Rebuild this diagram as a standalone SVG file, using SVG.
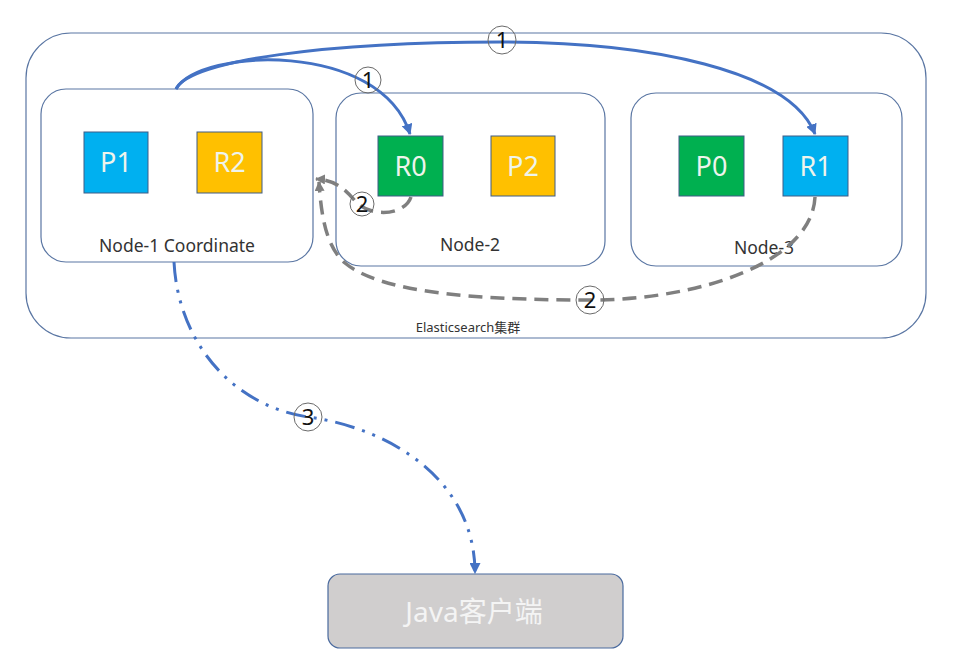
<svg xmlns="http://www.w3.org/2000/svg" width="970" height="662" viewBox="0 0 970 662">
<style>
.box{fill:#fff;stroke:#5A76A3;stroke-width:1.2}
.lbl{font-family:"Noto Sans","Noto Sans CJK SC",sans-serif;fill:#333;text-anchor:middle}
.sh{stroke:#3E5C86;stroke-width:1}
.sht{font-family:"Noto Sans","Noto Sans CJK SC",sans-serif;font-size:27px;fill:#EEF4EC;text-anchor:middle}
.blue{fill:#00B0F0}.yel{fill:#FFC000}.grn{fill:#00B050}
.c1{fill:none;stroke:#4472C4;stroke-width:3}
.c2{fill:none;stroke:#7F7F7F;stroke-width:3.5;stroke-dasharray:14 8}
.c3{fill:none;stroke:#4472C4;stroke-width:3;stroke-dasharray:20 8 3 8 3 8}
.num circle{fill:none;stroke:#6a6a6a;stroke-width:1}
.num text{font-family:"Noto Sans",sans-serif;font-size:22px;fill:#111;text-anchor:middle}
</style>
<defs>
<marker id="ab" viewBox="0 0 10 10" refX="9" refY="5" markerWidth="11" markerHeight="11" markerUnits="userSpaceOnUse" orient="auto"><path d="M0,0 L10,5 L0,10 z" fill="#4472C4"/></marker>
<marker id="ag" viewBox="0 0 10 10" refX="9" refY="5" markerWidth="10" markerHeight="10" markerUnits="userSpaceOnUse" orient="auto"><path d="M0,0 L10,5 L0,10 z" fill="#7F7F7F"/></marker>
</defs>
<rect width="970" height="662" fill="#fff"/>
<g id="cluster">
<rect class="box" x="26" y="33" width="900" height="305" rx="45"/>
<text class="lbl" x="468" y="332" font-size="13">Elasticsearch集群</text>
</g>
<g id="node1">
<rect class="box" x="41" y="89" width="272" height="173" rx="25"/>
<text class="lbl" x="177" y="252" font-size="17.5">Node-1 Coordinate</text>
</g>
<g id="node2">
<rect class="box" x="336" y="93" width="269" height="173" rx="25"/>
<text class="lbl" x="470" y="251" font-size="17.5">Node-2</text>
</g>
<g id="node3">
<rect class="box" x="631" y="93" width="271" height="173" rx="25"/>
<text class="lbl" x="764" y="254" font-size="17.5">Node-3</text>
</g>
<g id="P1"><rect class="sh blue" x="84" y="132" width="64" height="61"/><text class="sht" x="116" y="172">P1</text></g>
<g id="R2"><rect class="sh yel" x="197" y="132" width="65" height="61"/><text class="sht" x="229.5" y="172">R2</text></g>
<g id="R0"><rect class="sh grn" x="378" y="136" width="65" height="60"/><text class="sht" x="410.5" y="176">R0</text></g>
<g id="P2"><rect class="sh yel" x="491" y="136" width="64" height="60"/><text class="sht" x="523" y="176">P2</text></g>
<g id="P0"><rect class="sh grn" x="679" y="136" width="65" height="60"/><text class="sht" x="711.5" y="176">P0</text></g>
<g id="R1"><rect class="sh blue" x="783" y="136" width="65" height="60"/><text class="sht" x="815.5" y="176">R1</text></g>
<g id="client">
<rect x="328" y="574" width="295" height="74" rx="12" fill="#D0CECE" stroke="#4A6A9E" stroke-width="1.2"/>
<text x="474" y="622" font-family="Noto Sans,'Noto Sans CJK SC',sans-serif" font-size="28" fill="#F4F4F4" text-anchor="middle">Java客户端</text>
</g>
<g id="connectors">
<path class="c1" d="M176,89 C200,48 380,40 410,134" marker-end="url(#ab)"/>
<path class="c1" d="M176,89 C190,60 330,42 500,42 C650,42 790,70 815,134" marker-end="url(#ab)"/>
<path class="c2" d="M411,197 C405,215 372,218 356,202 C346,190 336,180 316,179" marker-end="url(#ag)"/>
<path class="c2" d="M815,197 C812,262 700,300 590,300 C470,300 380,292 345,263 C325,246 321,212 319,182" marker-end="url(#ag)"/>
<path class="c3" d="M174,262 C178,340 230,405 308,417 C390,428 475,480 475,573" marker-end="url(#ab)"/>
</g>
<g id="labels">
<g class="num"><circle cx="368" cy="80" r="13"/><text x="368" y="88">1</text></g>
<g class="num"><circle cx="502" cy="40" r="14"/><text x="502" y="48">1</text></g>
<g class="num"><circle cx="362" cy="204" r="12"/><text x="362" y="212">2</text></g>
<g class="num"><circle cx="590" cy="300" r="14"/><text x="590" y="308">2</text></g>
<g class="num"><circle cx="308" cy="417" r="14"/><text x="308" y="425">3</text></g>
</g>
</svg>
